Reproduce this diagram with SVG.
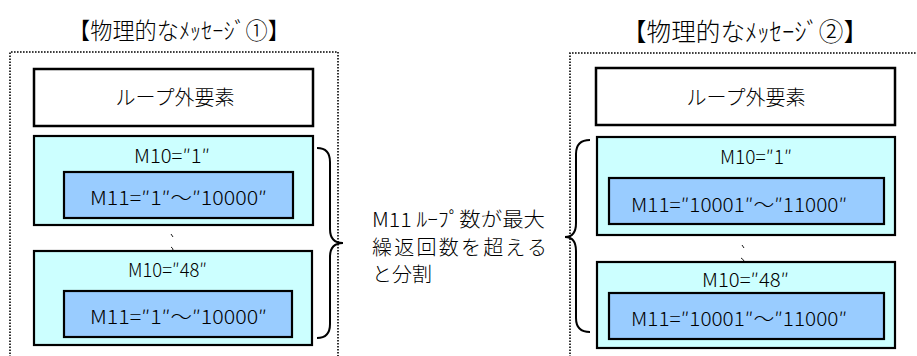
<svg xmlns="http://www.w3.org/2000/svg" width="917" height="356" viewBox="0 0 917 356">
<style>
  text { font-family: "Noto Sans CJK JP", "Liberation Sans", sans-serif; font-weight: 300; fill: #000; }
  .title { font-size: 23px; }
  .title2 { font-size: 25px; }
  .lbl { font-size: 20px; text-anchor: middle; }
  .m { font-size: 19px; }
  .mid { font-size: 20px; }
  .frame { fill: none; stroke: #000; stroke-width: 1.6; stroke-dasharray: 1.6 1.4; }
  .white { fill: #fff; stroke: #000; stroke-width: 2.5; }
  .outer { fill: #CCFFFF; stroke: #000; stroke-width: 2.2; }
  .inner { fill: #99CCFF; stroke: #000; stroke-width: 2.2; }
  .brace { fill: none; stroke: #000; stroke-width: 2; }
  .tick { fill: none; stroke: #000; stroke-width: 0.9; }
</style>

<g id="msg1">
  <text class="title" x="68" y="39" textLength="222" lengthAdjust="spacingAndGlyphs">【物理的なﾒｯｾｰｼﾞ①】</text>
  <path class="frame" d="M10,360 V52 H338 V360"/>
  <g id="msg1-outside">
    <rect class="white" x="34" y="69" width="279" height="57"/>
    <text class="lbl" x="175" y="105">ループ外要素</text>
  </g>
  <g id="msg1-loop1">
    <rect class="outer" x="34" y="136" width="279" height="89"/>
    <text class="m" x="134" y="163" textLength="76" lengthAdjust="spacingAndGlyphs">M10=″1″</text>
    <rect class="inner" x="64" y="172" width="229" height="46"/>
    <text class="m" x="90" y="205" textLength="177" lengthAdjust="spacingAndGlyphs">M11=″1″～″10000″</text>
  </g>
  <path class="tick" d="M171,234 L173,237 M171,247 Q173,248 173,250"/>
  <g id="msg1-loop48">
    <rect class="outer" x="34" y="251" width="278" height="94"/>
    <text class="m" x="128" y="277" textLength="79" lengthAdjust="spacingAndGlyphs">M10=″48″</text>
    <rect class="inner" x="64" y="291" width="228" height="46"/>
    <text class="m" x="90" y="324" textLength="177" lengthAdjust="spacingAndGlyphs">M11=″1″～″10000″</text>
  </g>
</g>

<g id="note">
  <text class="mid" x="372" y="227" textLength="173" lengthAdjust="spacingAndGlyphs">M11 ﾙｰﾌﾟ数が最大</text>
  <text class="mid" x="372" y="255" textLength="175" lengthAdjust="spacing">繰返回数を超える</text>
  <text class="mid" x="372" y="282">と分割</text>
</g>

<g id="msg2">
  <text class="title2" x="622" y="41" textLength="246" lengthAdjust="spacingAndGlyphs">【物理的なﾒｯｾｰｼﾞ②】</text>
  <path class="frame" d="M570,360 V53 H920"/>
  <g id="msg2-outside">
    <rect class="white" x="596" y="68" width="299" height="57"/>
    <text class="lbl" x="746" y="105">ループ外要素</text>
  </g>
  <g id="msg2-loop1">
    <rect class="outer" x="597" y="137" width="298" height="98"/>
    <text class="m" x="720" y="164" textLength="72" lengthAdjust="spacingAndGlyphs">M10=″1″</text>
    <rect class="inner" x="609" y="178" width="275" height="46"/>
    <text class="m" x="631" y="212" textLength="216" lengthAdjust="spacingAndGlyphs">M11=″10001″～″11000″</text>
  </g>
  <path class="tick" d="M742,245 L744,248 M741,258 Q743,259 744,261"/>
  <g id="msg2-loop48">
    <rect class="outer" x="597" y="262" width="298" height="86"/>
    <text class="m" x="702" y="287" textLength="87" lengthAdjust="spacingAndGlyphs">M10=″48″</text>
    <rect class="inner" x="609" y="293" width="275" height="46"/>
    <text class="m" x="631" y="326" textLength="216" lengthAdjust="spacingAndGlyphs">M11=″10001″～″11000″</text>
  </g>
</g>

<g id="connectors">
  <path class="brace" d="M317,148 Q330,148 330,162 L330,229 Q330,243 343,243 Q330,243 330,257 L330,324 Q330,338 317,338"/>
  <path class="brace" d="M590,140 Q576,140 576,154 L576,223 Q576,237 565,237 Q576,237 576,251 L576,318 Q576,332 590,332"/>
</g>
</svg>
